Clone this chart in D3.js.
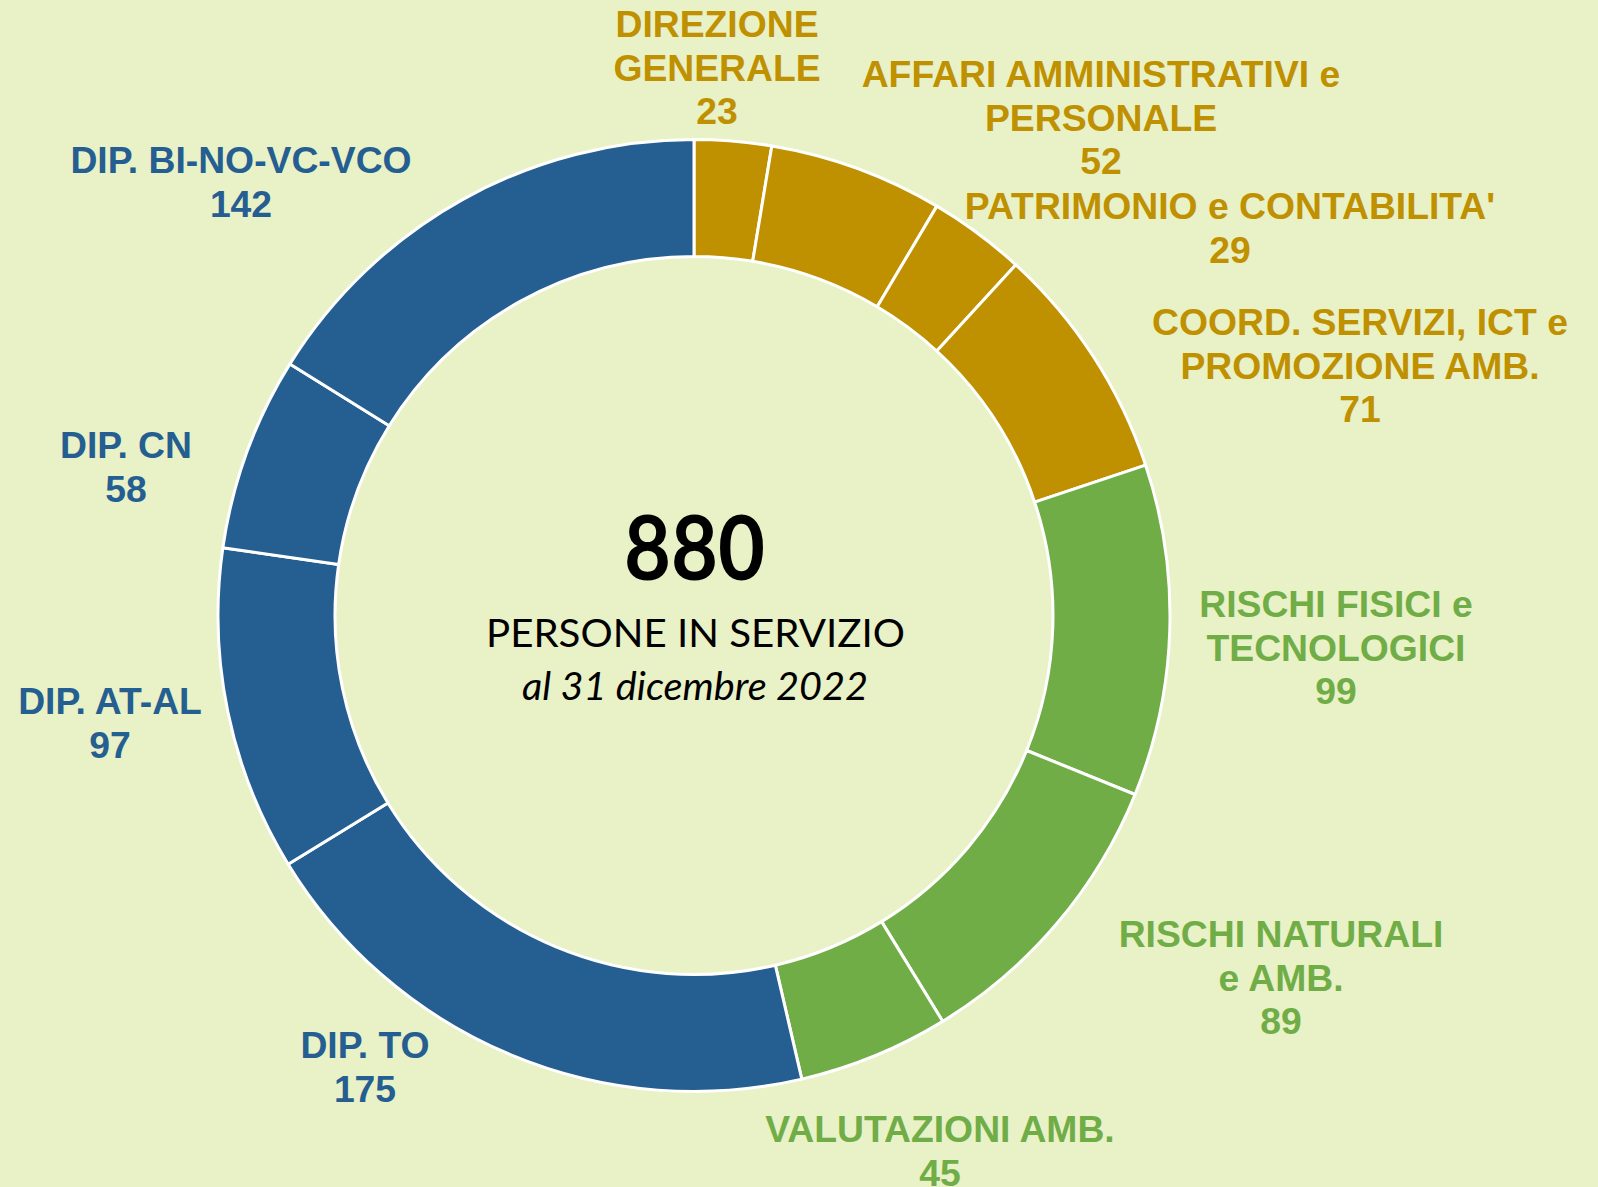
<!DOCTYPE html>
<html>
<head>
<meta charset="utf-8">
<script src="https://cdn.jsdelivr.net/npm/d3@7"></script>
<style>
  html, body { margin: 0; padding: 0; background: #E9F1C7; }
  svg { display: block; }
</style>
</head>
<body>
<svg id="chart" width="1598" height="1187"></svg>
<script>
// ---- data ----
const categories = [
  "DIREZIONE GENERALE",
  "AFFARI AMMINISTRATIVI e PERSONALE",
  "PATRIMONIO e CONTABILITA'",
  "COORD. SERVIZI, ICT e PROMOZIONE AMB.",
  "RISCHI FISICI e TECNOLOGICI",
  "RISCHI NATURALI e AMB.",
  "VALUTAZIONI AMB.",
  "DIP. TO",
  "DIP. AT-AL",
  "DIP. CN",
  "DIP. BI-NO-VC-VCO"
];
const labelLines = [
  ["DIREZIONE", "GENERALE"],
  ["AFFARI AMMINISTRATIVI e", "PERSONALE"],
  ["PATRIMONIO e CONTABILITA'"],
  ["COORD. SERVIZI, ICT e", "PROMOZIONE AMB."],
  ["RISCHI FISICI e", "TECNOLOGICI"],
  ["RISCHI NATURALI", "e AMB."],
  ["VALUTAZIONI AMB."],
  ["DIP. TO"],
  ["DIP. AT-AL"],
  ["DIP. CN"],
  ["DIP. BI-NO-VC-VCO"]
];
const values = [23, 52, 29, 71, 99, 89, 45, 175, 97, 58, 142];
const groups = ["dir", "dir", "dir", "dir", "tec", "tec", "tec", "dip", "dip", "dip", "dip"];
const total = 880;
const centerTitle = "PERSONE IN SERVIZIO";
const centerSub = "al 31 dicembre 2022";

// ---- layout (not data) ----
const groupColor = d3.scaleOrdinal()
  .domain(["dir", "tec", "dip"])
  .range(["#BF9000", "#70AD47", "#255E91"]);
const labelPos = [
  [717, 37], [1101, 87], [1230, 219], [1360, 335], [1336, 617],
  [1281, 947], [940, 1142], [365, 1058], [110, 714], [126, 458], [241, 173]
];
const lineH = 43.5;
const cx = 694, cy = 615.5, rOuter = 476, rInner = 359;

const svg = d3.select("#chart");
svg.append("rect").attr("width", 1598).attr("height", 1187).attr("fill", "#E9F1C7");

const pie = d3.pie().sort(null).value(d => d.value).startAngle(0).endAngle(2 * Math.PI);
const arc = d3.arc().innerRadius(rInner).outerRadius(rOuter);
const rows = categories.map((c, i) => ({ name: c, value: values[i], group: groups[i], lines: labelLines[i], pos: labelPos[i] }));

const g = svg.append("g").attr("transform", `translate(${cx},${cy})`);
g.selectAll("path.slice")
  .data(pie(rows))
  .join("path")
  .attr("class", "slice")
  .attr("d", arc)
  .attr("fill", d => groupColor(d.data.group))
  .attr("stroke", "#FFFFFF")
  .attr("stroke-width", 3)
  .attr("stroke-linejoin", "round");

// labels
const lbl = svg.append("g")
  .attr("font-family", "'Liberation Sans', Arial, sans-serif")
  .attr("font-weight", "bold")
  .attr("font-size", 37.3)
  .attr("text-anchor", "middle");
rows.forEach(r => {
  const t = lbl.append("text")
    .attr("x", r.pos[0]).attr("y", r.pos[1])
    .attr("fill", groupColor(r.group));
  const lines = r.lines.concat([String(r.value)]);
  lines.forEach((ln, j) => {
    t.append("tspan").attr("x", r.pos[0]).attr("y", r.pos[1] + j * lineH).text(ln);
  });
});

// center text
const ct = svg.append("g").attr("text-anchor", "middle").attr("fill", "#000");
ct.append("text")
  .attr("x", 694.5).attr("y", 580)
  .attr("font-family", "Lato, 'Open Sans', sans-serif")
  .attr("font-weight", "bold")
  .attr("font-size", 90)
  .attr("textLength", 141).attr("lengthAdjust", "spacingAndGlyphs")
  .text(d3.format("d")(total));
ct.append("text")
  .attr("x", 695.5).attr("y", 647)
  .attr("font-family", "Lato, 'Open Sans', sans-serif")
  .attr("font-size", 38)
  .attr("textLength", 419).attr("lengthAdjust", "spacingAndGlyphs")
  .text(centerTitle);
ct.append("text")
  .attr("x", 695).attr("y", 700)
  .attr("font-family", "Lato, 'Open Sans', sans-serif")
  .attr("font-style", "italic")
  .attr("font-size", 38)
  .attr("textLength", 346).attr("lengthAdjust", "spacingAndGlyphs")
  .text(centerSub);
</script>
</body>
</html>
